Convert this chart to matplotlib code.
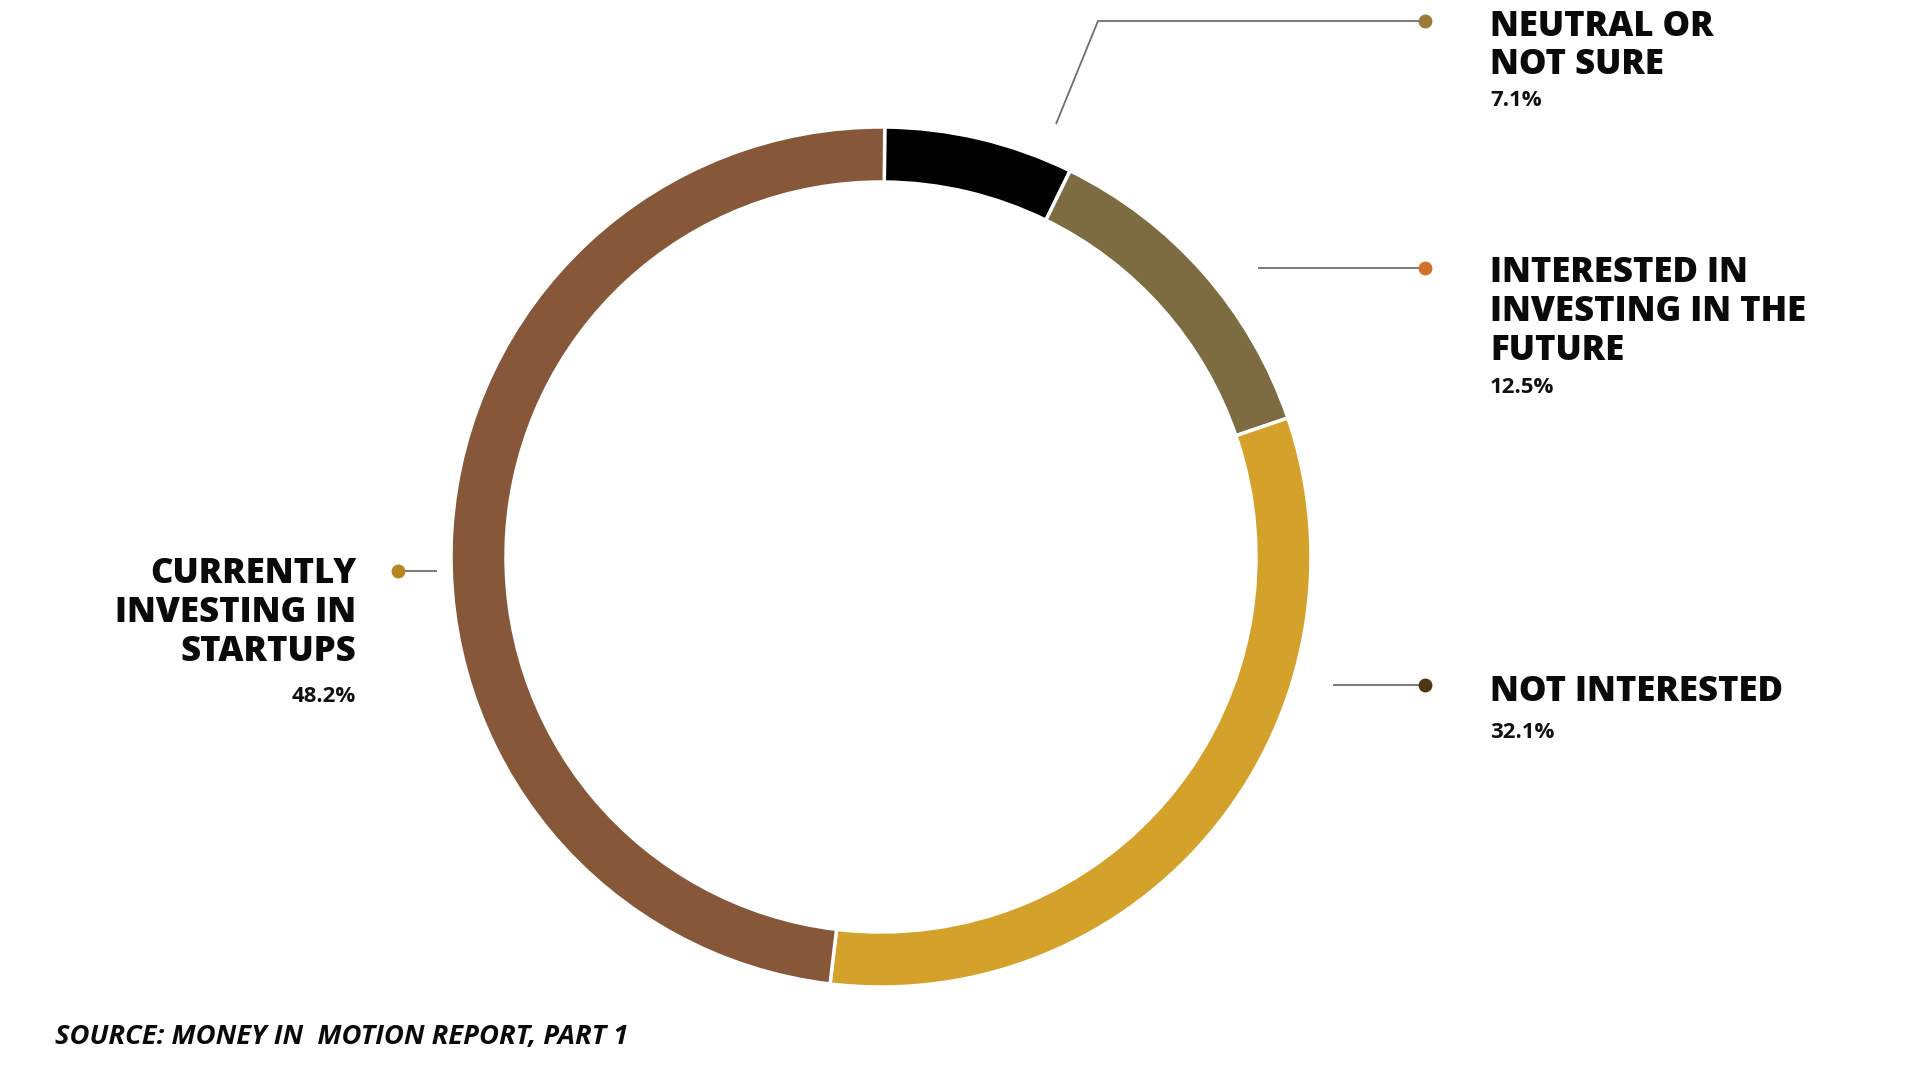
import matplotlib
matplotlib.use("Agg")
import matplotlib.pyplot as plt

# ---- data ----
categories = ["NEUTRAL OR NOT SURE", "INTERESTED IN INVESTING IN THE FUTURE",
              "NOT INTERESTED", "CURRENTLY INVESTING IN STARTUPS"]
values = [7.1, 12.5, 32.1, 48.2]
value_labels = ["7.1%", "12.5%", "32.1%", "48.2%"]
label_lines = [["NEUTRAL OR", "NOT SURE"],
               ["INTERESTED IN", "INVESTING IN THE", "FUTURE"],
               ["NOT INTERESTED"],
               ["CURRENTLY", "INVESTING IN", "STARTUPS"]]
source_text = "SOURCE: MONEY IN  MOTION REPORT, PART 1"

# ---- styles ----
seg_colors = ["#000000", "#7D6B41", "#D4A12B", "#87573A"]
dot_colors = ["#9C7A3C", "#D2712B", "#4D3613", "#B88520"]
FONT = "Open Sans"

fig = plt.figure(figsize=(19.2, 10.8), dpi=100)
fig.patch.set_facecolor("white")
ax = fig.add_axes([0, 0, 1, 1])

cx, cy, R = 881, 557, 430
ax.pie(values, colors=seg_colors, startangle=-89.5, counterclock=True,
       center=(cx, cy), radius=R,
       wedgeprops=dict(width=55, edgecolor="white", linewidth=2.5))
ax.set_xlim(0, 1920)
ax.set_ylim(1080, 0)
ax.set_aspect("equal")
ax.axis("off")

line_kw = dict(color="#6E6E6E", lw=1.3, solid_capstyle="butt", zorder=3)

# leader lines (pixel layout)
leaders = [
    [(1056, 124), (1098, 21), (1425, 21)],
    [(1258, 268), (1425, 268)],
    [(1333, 685), (1425, 685)],
    [(437, 571), (398, 571)],
]
for pts, dc in zip(leaders, dot_colors):
    xs = [p[0] for p in pts]
    ys = [p[1] for p in pts]
    ax.plot(xs, ys, **line_kw)
    ax.plot([xs[-1]], [ys[-1]], "o", ms=9, color=dc, zorder=4)

head_kw = dict(fontsize=25, fontweight=800, family=FONT, color="#0a0a0a",
               va="baseline")
pct_kw = dict(fontsize=16, fontweight="bold", family=FONT, color="#111111",
              va="baseline")

# right-side labels
right_specs = [
    (0, 1490, [36, 74], 106),
    (1, 1490, [282, 321, 360], 393),
    (2, 1490, [701], 738),
]
for idx, x, bases, pb in right_specs:
    for txt, b in zip(label_lines[idx], bases):
        ax.text(x, b, txt, ha="left", **head_kw)
    ax.text(x, pb, value_labels[idx], ha="left", **pct_kw)

# left label
for txt, b in zip(label_lines[3], [583, 622, 661]):
    ax.text(356, b, txt, ha="right", **head_kw)
ax.text(356, 702, value_labels[3], ha="right", **pct_kw)

ax.text(55, 1044, source_text, ha="left", va="baseline", fontsize=19.7,
        fontweight="bold", fontstyle="italic", family=FONT, color="#0a0a0a")

fig.savefig("out.png", dpi=100, facecolor="white")
